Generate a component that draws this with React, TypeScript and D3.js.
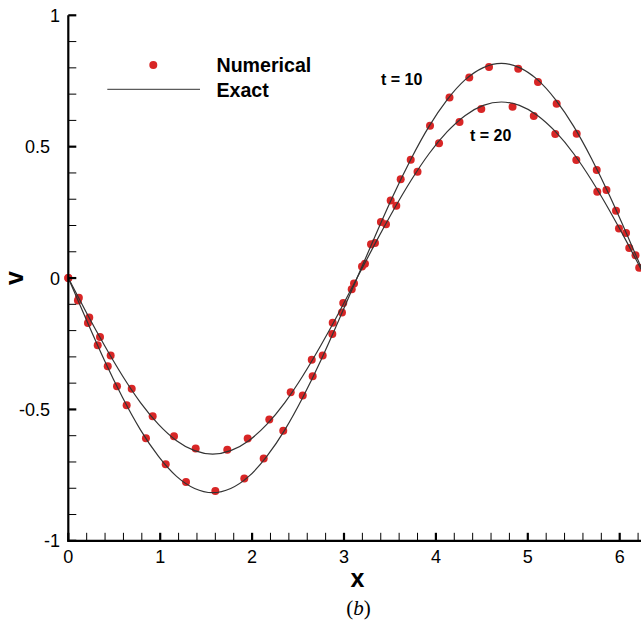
import React from "react";
import * as d3 from "d3";

// Numerical solution points (x, v)
const numT10X = [0, 0.105, 0.214, 0.320, 0.429, 0.530, 0.635, 0.845, 1.060, 1.281, 1.600, 1.915, 2.126, 2.339, 2.551, 2.659, 2.768, 2.873, 2.978, 3.084, 3.196, 3.294, 3.402, 3.508, 3.617, 3.726, 3.936, 4.148, 4.363, 4.578, 4.896, 5.111, 5.314, 5.532, 5.750, 5.856, 5.960, 6.069, 6.172];
const numT10V = [0, -0.085, -0.171, -0.256, -0.336, -0.412, -0.484, -0.610, -0.709, -0.776, -0.810, -0.763, -0.687, -0.581, -0.447, -0.374, -0.295, -0.213, -0.131, -0.043, 0.044, 0.129, 0.213, 0.295, 0.376, 0.450, 0.580, 0.687, 0.763, 0.803, 0.797, 0.746, 0.663, 0.549, 0.411, 0.335, 0.256, 0.171, 0.087];

const numT20X = [0, 0.115, 0.228, 0.345, 0.461, 0.690, 0.918, 1.150, 1.386, 1.730, 1.952, 2.187, 2.420, 2.649, 2.877, 2.992, 3.109, 3.228, 3.337, 3.457, 3.569, 3.800, 4.034, 4.257, 4.494, 4.834, 5.065, 5.299, 5.528, 5.756, 5.992, 6.104, 6.212];
const numT20V = [0, -0.075, -0.150, -0.224, -0.295, -0.421, -0.526, -0.602, -0.649, -0.653, -0.611, -0.538, -0.435, -0.311, -0.170, -0.095, -0.021, 0.054, 0.133, 0.205, 0.275, 0.405, 0.513, 0.594, 0.643, 0.652, 0.617, 0.548, 0.449, 0.328, 0.189, 0.114, 0.039];

// Exact solution sampled on a grid of 33 points over [0, 2π] (step π/16)
const exactX = d3.range(33).map((k) => (k * Math.PI) / 16);
const exactT10 = [0, -0.159, -0.313, -0.454, -0.578, -0.679, -0.755, -0.801, -0.817, -0.801, -0.755, -0.679, -0.578, -0.454, -0.313, -0.159, 0, 0.159, 0.313, 0.454, 0.578, 0.679, 0.755, 0.801, 0.817, 0.801, 0.755, 0.679, 0.578, 0.454, 0.313, 0.159, 0];
const exactT20 = [0, -0.131, -0.256, -0.372, -0.474, -0.557, -0.619, -0.657, -0.670, -0.657, -0.619, -0.557, -0.474, -0.372, -0.256, -0.131, 0, 0.131, 0.256, 0.372, 0.474, 0.557, 0.619, 0.657, 0.670, 0.657, 0.619, 0.557, 0.474, 0.372, 0.256, 0.131, 0];

const xMajor = [0, 1, 2, 3, 4, 5, 6];
const yMajor = [-1, -0.5, 0, 0.5, 1];
const yLabels = ["-1", "-0.5", "0", "0.5", "1"];

const W = 641;
const H = 623;
const RED = "#d82626";
const LINE = "#333333";

export default function App() {
  const x = d3.scaleLinear().domain([0, 2 * Math.PI]).range([68.3, 68.3 + 2 * Math.PI * 91.9]);
  const y = d3.scaleLinear().domain([-1, 1]).range([540.8, 15.3]);

  const line = d3
    .line<number>()
    .x((_, i) => x(exactX[i]))
    .y((d) => y(d))
    .curve(d3.curveNatural);

  const xMinor = d3.range(0, 6.3, 0.2).filter((v) => Math.abs(v - Math.round(v)) > 1e-6);
  const yMinor = d3.range(-1, 1.0001, 0.1).filter((v) => Math.abs(v * 2 - Math.round(v * 2)) > 1e-6);

  const font = "'Liberation Sans', Arial, sans-serif";
  const x0 = x(0);
  const yb = y(-1);

  return (
    <svg
      width={W}
      height={H}
      style={{ position: "absolute", left: 0, top: 0, background: "#fff" }}
      fontFamily={font}
    >
      <rect x={0} y={0} width={W} height={H} fill="#fff" />

      {/* numerical dots */}
      {numT10X.map((xv, i) => (
        <circle key={"a" + i} cx={x(xv)} cy={y(numT10V[i])} r={4} fill={RED} />
      ))}
      {numT20X.map((xv, i) => (
        <circle key={"b" + i} cx={x(xv)} cy={y(numT20V[i])} r={4} fill={RED} />
      ))}

      {/* exact curves */}
      <path d={line(exactT10) || ""} fill="none" stroke={LINE} strokeWidth={1.2} />
      <path d={line(exactT20) || ""} fill="none" stroke={LINE} strokeWidth={1.2} />

      {/* axes */}
      <line x1={x0} x2={x0} y1={y(1)} y2={yb + 1} stroke="#000" strokeWidth={2.2} />
      <line x1={x0 - 1} x2={W + 10} y1={yb} y2={yb} stroke="#000" strokeWidth={2.2} />

      {xMinor.map((v) => (
        <line key={"xm" + v} x1={x(v)} x2={x(v)} y1={yb} y2={yb - 8} stroke="#000" strokeWidth={1} />
      ))}
      {xMajor.map((v) => (
        <line key={"xM" + v} x1={x(v)} x2={x(v)} y1={yb} y2={yb - 8} stroke="#000" strokeWidth={2.2} />
      ))}
      {yMinor.map((v) => (
        <line key={"ym" + v} x1={x0} x2={x0 + 8} y1={y(v)} y2={y(v)} stroke="#000" strokeWidth={1} />
      ))}
      {yMajor.map((v) => (
        <line key={"yM" + v} x1={x0} x2={x0 + 8} y1={y(v)} y2={y(v)} stroke="#000" strokeWidth={2.2} />
      ))}

      {xMajor.map((v) => (
        <text key={"xl" + v} x={x(v)} y={563} fontSize={18} textAnchor="middle" fill="#000">
          {String(v)}
        </text>
      ))}
      {yMajor.map((v, i) => (
        <text
          key={"yl" + v}
          x={yLabels[i].includes(".") ? 50 : 60}
          y={y(v) + 6.5}
          fontSize={18}
          textAnchor="end"
          fill="#000"
        >
          {yLabels[i]}
        </text>
      ))}

      {/* axis titles */}
      <text x={357.5} y={586.5} fontSize={25} fontWeight="bold" textAnchor="middle" fill="#000">
        x
      </text>
      <text
        x={0}
        y={0}
        fontSize={25}
        fontWeight="bold"
        textAnchor="middle"
        fill="#000"
        transform={`translate(22.5,${y(0)}) rotate(-90)`}
      >
        v
      </text>

      {/* legend */}
      <circle cx={153.3} cy={65} r={4} fill={RED} />
      <text x={216.5} y={71.7} fontSize={19.6} fontWeight="bold" fill="#000">
        Numerical
      </text>
      <line x1={107.3} x2={200} y1={89.3} y2={89.3} stroke={LINE} strokeWidth={1} />
      <text x={216.5} y={96.5} fontSize={19.6} fontWeight="bold" fill="#000">
        Exact
      </text>

      {/* annotations */}
      <text x={381} y={85} fontSize={16} fontWeight="bold" fill="#000">
        t = 10
      </text>
      <text x={470} y={140.7} fontSize={16} fontWeight="bold" fill="#000">
        t = 20
      </text>

      {/* caption */}
      <text
        x={358.5}
        y={614.5}
        fontSize={21}
        textAnchor="middle"
        fontFamily="'Liberation Serif', 'Times New Roman', serif"
        fill="#000"
      >
        (<tspan fontStyle="italic">b</tspan>)
      </text>
    </svg>
  );
}
